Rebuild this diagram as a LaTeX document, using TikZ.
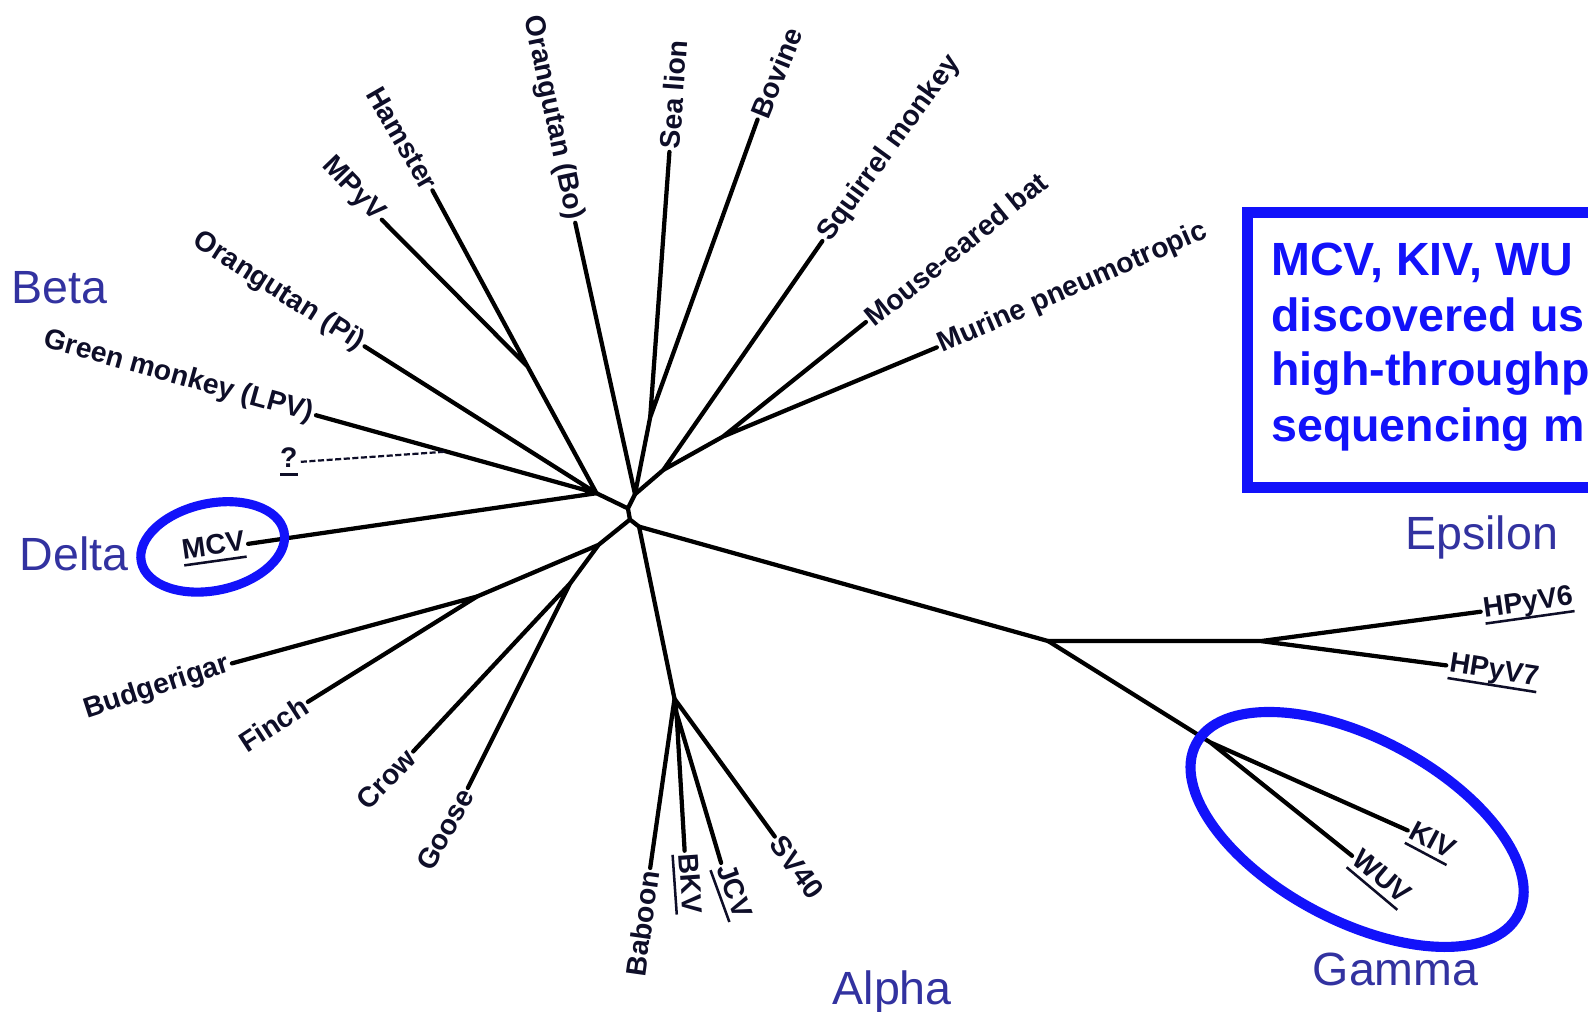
\documentclass[tikz,border=0pt]{standalone}
\usepackage{fontspec}
\setmainfont{Liberation Sans}
\definecolor{labc}{RGB}{14,14,40}
\definecolor{grpc}{RGB}{50,50,160}
\definecolor{bluec}{RGB}{18,18,250}
\newcommand\lblf{\fontsize{28}{32}\selectfont\bfseries}
\newcommand\grpf{\fontsize{46}{52}\selectfont}
\newcommand\boxf{\fontsize{46}{55}\selectfont\bfseries}
\newcommand\ulx[1]{\setbox0\hbox{#1}\rlap{\vrule width\wd0 height -5pt depth 7.5pt}\box0}
\begin{document}
\begin{tikzpicture}[x=1pt,y=-1pt,
  br/.style={line width=4.2pt, line cap=round, draw=black},
  leafE/.style={anchor=east, inner sep=3pt, font=\lblf, text=labc},
  leafW/.style={anchor=west, inner sep=3pt, font=\lblf, text=labc},
  grp/.style={font=\grpf, text=grpc, inner sep=0pt, anchor=base},
  boxt/.style={font=\boxf, text=bluec, anchor=base west, inner sep=0pt}]
\useasboundingbox (0,0) rectangle (1568,999);
\fill[white] (0,0) rectangle (1568,999);
\clip (0,0) rectangle (1568,999);

% internal nodes
\coordinate (nL) at (589,487);
\coordinate (nHM) at (521,362);
\coordinate (nT) at (627,488);
\coordinate (nSB) at (642,412);
\coordinate (nSQ) at (655,464);
\coordinate (nBM) at (714,431);
\coordinate (nM) at (620,502);
\coordinate (nB) at (622,513);
\coordinate (nRA) at (631,520);
\coordinate (nB1) at (591,538);
\coordinate (nBF) at (471,589);
\coordinate (nCG) at (563,576);
\coordinate (nA) at (666,690);
\coordinate (nA2) at (668,704);
\coordinate (nR) at (1035,633);
\coordinate (nHP) at (1245,633);
\coordinate (nKW) at (1195,733);
\coordinate (nQ) at (440,446);

% leaf ends
\coordinate (lGM) at (312,410);
\coordinate (lOP) at (360,342);
\coordinate (lMP) at (377,217);
\coordinate (lHA) at (427,188);
\coordinate (lOB) at (568,220);
\coordinate (lSL) at (661,150);
\coordinate (lBO) at (748,118);
\coordinate (lSQ) at (812,238);
\coordinate (lMB) at (855,318);
\coordinate (lMU) at (925,343);
\coordinate (lMCV) at (245,537);
\coordinate (lQ) at (297,456);
\coordinate (lBU) at (229,655);
\coordinate (lFI) at (304,693);
\coordinate (lCR) at (408,742);
\coordinate (lGO) at (462,778);
\coordinate (lBA) at (642,857);
\coordinate (lBK) at (676,840);
\coordinate (lJC) at (712,852);
\coordinate (lSV) at (765,826);
\coordinate (lH6) at (1462,604);
\coordinate (lH7) at (1428,657);
\coordinate (lKI) at (1390,820);
\coordinate (lWU) at (1335,845);

% branches
\draw[br] (nT) -- (nM) (nL) -- (nM) (nM) -- (nB) (nB) -- (nRA);
\draw[br] (nRA) -- (nR) (nRA) -- (nA);
\draw[br] (nB) -- (nB1) (nB1) -- (nBF) (nB1) -- (nCG);
\draw[br] (nBF) -- (lBU) (nBF) -- (lFI) (nCG) -- (lCR) (nCG) -- (lGO);
\draw[br] (nA) -- (lBA) (nA) -- (lSV) (nA) -- (nA2) (nA2) -- (lBK) (nA2) -- (lJC);
\draw[br] (nR) -- (nHP) (nHP) -- (lH6) (nHP) -- (lH7);
\draw[br] (nR) -- (nKW) (nKW) -- (lKI) (nKW) -- (lWU);
\draw[br] (nL) -- (lGM) (nL) -- (lOP) (nL) -- (nHM) (nHM) -- (lHA) (nHM) -- (lMP) (nL) -- (lMCV);
\draw[br] (nT) -- (lOB) (nT) -- (nSB) (nSB) -- (lSL) (nSB) -- (lBO);
\draw[br] (nT) -- (nSQ) (nSQ) -- (lSQ) (nSQ) -- (nBM) (nBM) -- (lMB) (nBM) -- (lMU);
\draw[line width=2.2pt, dash pattern=on 6pt off 2.5pt, labc] (lQ) -- (nQ);

% leaf labels
\node[leafE, rotate=-15.5] (tGM) at (lGM) {Green monkey (LPV)};
\node[leafE, rotate=-32.5] (tOP) at (lOP) {Orangutan (Pi)};
\node[leafE, rotate=-46] (tMP) at (lMP) {MPyV};
\node[leafE, rotate=-60] (tHA) at (lHA) {Hamster};
\node[leafE, rotate=-78] (tOB) at (lOB) {Orangutan (Bo)};
\node[leafW, rotate=86] (tSL) at (lSL) {Sea lion};
\node[leafW, rotate=68] (tBO) at (lBO) {Bovine};
\node[leafW, rotate=54] (tSQ) at (lSQ) {Squirrel monkey};
\node[leafW, rotate=39] (tMB) at (lMB) {Mouse-eared bat};
\node[leafW, rotate=23.5] (tMU) at (lMU) {Murine pneumotropic};
\node[leafE, rotate=8] (tMCV) at (lMCV) {\ulx{MCV}};
\node[leafE] (tQ) at (lQ) {\ulx{?}};
\node[leafE, rotate=18] (tBU) at (lBU) {Budgerigar};
\node[leafE, rotate=33] (tFI) at (lFI) {Finch};
\node[leafE, rotate=46] (tCR) at (lCR) {Crow};
\node[leafE, rotate=61] (tGO) at (lGO) {Goose};
\node[leafE, rotate=82] (tBA) at (lBA) {Baboon};
\node[leafW, rotate=-86] (tBK) at (lBK) {\ulx{BKV}};
\node[leafW, rotate=-70] (tJC) at (lJC) {\ulx{JCV}};
\node[leafW, rotate=-54] (tSV) at (lSV) {SV40};
\node[leafW, rotate=8] (tH6) at (lH6) {\ulx{HPyV6}};
\node[leafW, rotate=-9] (tH7) at (lH7) {\ulx{HPyV7}};
\node[leafW, rotate=-28] (tKI) at (lKI) {\ulx{KIV}};
\node[leafW, rotate=-40] (tWU) at (lWU) {\ulx{WUV}};

% clade highlights
\draw[bluec, line width=9pt, rotate around={12:(210,540)}] (210,540) ellipse [x radius=72, y radius=43];
\draw[bluec, line width=10pt, rotate around={-28:(1340,819)}] (1340,819) ellipse [x radius=180, y radius=90];

% group names
\node[grp] (beta) at (59,300) {Beta};
\node[grp] (delta) at (73,563) {Delta};
\node[grp] (alpha) at (881,992) {Alpha};
\node[grp] (eps) at (1463,543) {Epsilon};
\node[grp] (gam) at (1378,973) {Gamma};

% text box
\draw[bluec, line width=11pt] (1232,210) rectangle (1640,481);
\node[boxt] (b1) at (1255,272) {MCV, KIV, WU};
\node[boxt] (b2) at (1255,327) {discovered us};
\node[boxt] (b3) at (1255,381) {high-throughp};
\node[boxt] (b4) at (1255,436) {sequencing m};
\end{tikzpicture}
\end{document}
